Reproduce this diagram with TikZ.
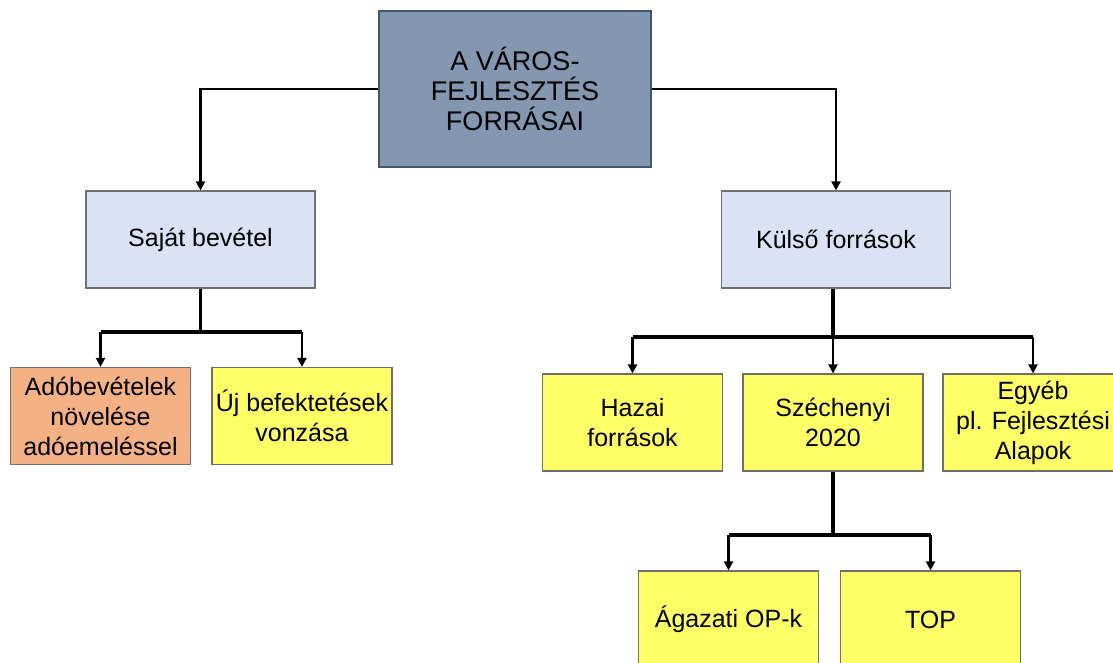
\documentclass[tikz,border=0pt]{standalone}
\usepackage{fontspec}
\setmainfont{Liberation Sans}
\usetikzlibrary{arrows.meta}

\definecolor{rootfill}{HTML}{8497B0}
\definecolor{rootline}{HTML}{44546A}
\definecolor{midfill}{HTML}{DAE3F3}
\definecolor{boxline}{HTML}{6F6F6F}
\definecolor{taxfill}{HTML}{F4B183}
\definecolor{leaffill}{HTML}{FFFF66}

\tikzset{
  box/.style={draw=boxline, line width=0.6pt, align=center, inner sep=0pt,
    font=\fontsize{12.5}{15}\selectfont},
  rootbox/.style={box, draw=rootline, fill=rootfill, minimum width=136pt,
    minimum height=78pt, font=\fontsize{13.5}{15}\selectfont},
  midbox/.style={box, fill=midfill, minimum width=114.5pt, minimum height=48.5pt},
  leafbox/.style={box, fill=leaffill, minimum width=90pt, minimum height=48.5pt},
  trunk/.style={line width=1.6pt},
  branch/.style={line width=1.1pt, -{Triangle[length=4.5pt,width=4.5pt]}}
}

\begin{document}
\begin{tikzpicture}[x=0.5pt,y=-0.5pt]
\useasboundingbox (0,0) rectangle (1113,663);
\clip (0,0) rectangle (1113,663);

%draw boxes
\node[rootbox] (root) at (515,89) {A VÁROS-\\FEJLESZTÉS\\FORRÁSAI};
\node[midbox] (own) at (200.5,239.5) {Saját bevétel};
\node[midbox] (ext) at (836,239.5) {Külső források};

\node[leafbox, fill=taxfill] (tax) at (100.5,416) {Adóbevételek\\növelése\\adóemeléssel};
\node[leafbox] (inv) at (302,416) {Új befektetések\\vonzása};

\node[leafbox] (home) at (632.5,422.5) {Hazai\\források};
\node[leafbox] (sz) at (833,422.5) {Széchenyi\\2020};
\node[leafbox] (other) at (1033,422.5) {Egyéb\\pl. Fejlesztési\\Alapok};

\node[leafbox] (sector) at (728.5,619.5) {Ágazati OP-k};
\node[leafbox] (top) at (930.5,619.5) {TOP};

%draw top level arrows
\draw[branch] (root.west) -| (own.north);
\draw[branch] (root.east) -| (ext.north);

%draw forks
\coordinate (ownfork) at (200.5,332);
\coordinate (extfork) at (833,337);
\coordinate (szfork) at (833,535);

\draw[trunk] (own.south) -- (ownfork);
\draw[trunk] (tax.north |- ownfork) -- (inv.north |- ownfork);
\draw[branch] (tax.north |- ownfork) -- (tax.north);
\draw[branch] (inv.north |- ownfork) -- (inv.north);

\draw[trunk] (ext.south -| extfork) -- (extfork);
\draw[trunk] (home.north |- extfork) -- (other.north |- extfork);
\foreach \n in {home,sz,other}
\draw[branch] (\n.north |- extfork) -- (\n.north);

\draw[trunk] (sz.south) -- (szfork);
\draw[trunk] (sector.north |- szfork) -- (top.north |- szfork);
\draw[branch] (sector.north |- szfork) -- (sector.north);
\draw[branch] (top.north |- szfork) -- (top.north);
\end{tikzpicture}
\end{document}
